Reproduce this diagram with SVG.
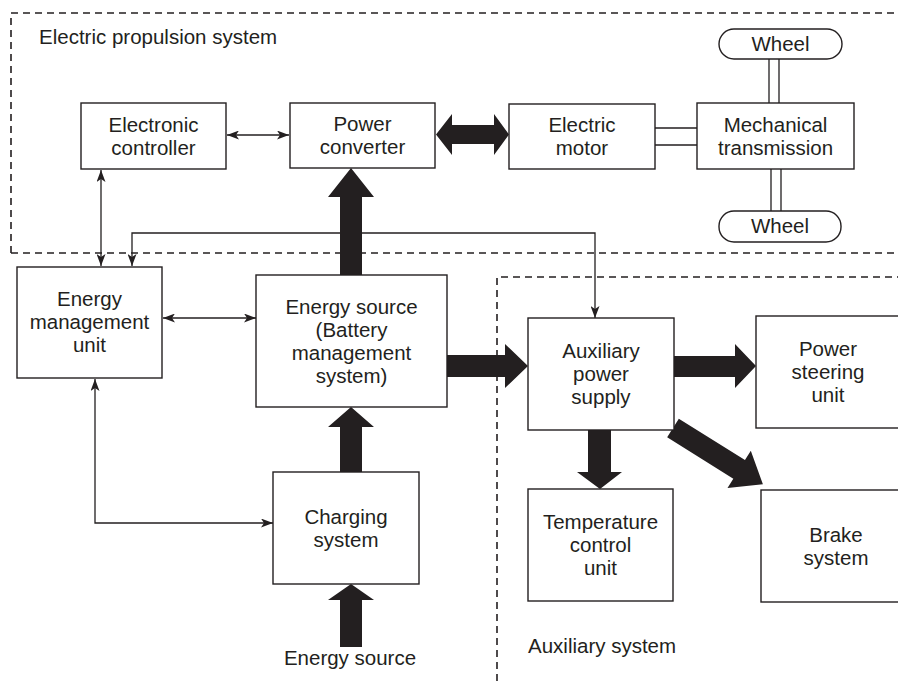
<svg xmlns="http://www.w3.org/2000/svg" width="898" height="681" viewBox="0 0 898 681">
  <style>
    .box { fill: #fff; stroke: #231f20; stroke-width: 1.4; }
    .dash { fill: none; stroke: #231f20; stroke-width: 1.6; stroke-dasharray: 7 5; }
    .thin { fill: none; stroke: #231f20; stroke-width: 1.3; }
    .fat { fill: #231f20; stroke: none; }
    .shaft { fill: none; stroke: #231f20; stroke-width: 1.3; }
    text { font-family: "Liberation Sans", Arial, Helvetica, sans-serif; font-size: 20.5px; fill: #231f20; }
    .c { text-anchor: middle; }
  </style>
  <defs>
    <marker id="tip" viewBox="0 0 12 9" refX="12" refY="4.5" markerWidth="12" markerHeight="9" markerUnits="userSpaceOnUse" orient="auto-start-reverse">
      <path d="M0,0 L12,4.5 L0,9 L3,4.5 Z" fill="#231f20"/>
    </marker>
  </defs>

  <!-- system boundaries -->
  <g id="boundaries">
    <path class="dash" d="M11,253 V13 H898"/>
    <path class="dash" d="M11,253 H898"/>
    <path class="dash" d="M497,681 V277 H898"/>
    <text x="39" y="44">Electric propulsion system</text>
    <text x="528" y="653">Auxiliary system</text>
  </g>

  <!-- mechanical shafts -->
  <g id="shafts">
    <path class="shaft" d="M655,128 H697 M655,145 H697"/>
    <path class="shaft" d="M769,59 V103 M779,59 V103"/>
    <path class="shaft" d="M771,169 V211 M781,169 V211"/>
  </g>

  <!-- connectors -->
  <g id="connectors">
    <path class="thin" d="M227,135 H289" marker-start="url(#tip)" marker-end="url(#tip)"/>
    <path class="thin" d="M101,170 V266" marker-start="url(#tip)" marker-end="url(#tip)"/>
    <path class="thin" d="M132,266 V233 H595 V318" marker-start="url(#tip)" marker-end="url(#tip)"/>
    <path class="thin" d="M163,318 H256" marker-start="url(#tip)" marker-end="url(#tip)"/>
    <path class="thin" d="M95,379 V523 H273" marker-start="url(#tip)" marker-end="url(#tip)"/>

    <polygon class="fat" points="436,134.5 452,114 452,125 494,125 494,114 509,134.5 494,155 494,144 452,144 452,155"/>
    <polygon class="fat" points="351,168 374,197 362,197 362,275 340,275 340,197 328,197"/>
    <polygon class="fat" points="351,407 374,427 362,427 362,472 340,472 340,427 328,427"/>
    <polygon class="fat" points="351,584 374,600 362,600 362,647 340,647 340,600 328,600"/>
    <polygon class="fat" points="447,355 505,355 505,344 528,366 505,388 505,377 447,377"/>
    <polygon class="fat" points="674,356 735,356 735,344 756,366 735,388 735,377 674,377"/>
    <polygon class="fat" points="588,430 611,430 611,472 622,472 600,489 577,472 588,472"/>
    <polygon class="fat" transform="translate(673,428) rotate(32)" points="0,-11 78,-11 78,-22 106,0 78,22 78,11 0,11"/>
  </g>

  <!-- nodes -->
  <g id="wheel-top">
    <rect class="box" x="719" y="29" width="123" height="30" rx="15" ry="15"/>
    <text class="c" x="780.5" y="51">Wheel</text>
  </g>
  <g id="wheel-bottom">
    <rect class="box" x="719" y="211" width="122" height="31" rx="15" ry="15"/>
    <text class="c" x="780" y="233">Wheel</text>
  </g>
  <g id="electronic-controller">
    <rect class="box" x="81" y="103" width="145" height="66"/>
    <text class="c" x="153.5" y="131.5">Electronic</text>
    <text class="c" x="153.5" y="154.5">controller</text>
  </g>
  <g id="power-converter">
    <rect class="box" x="290" y="103" width="145" height="65"/>
    <text class="c" x="362.5" y="131">Power</text>
    <text class="c" x="362.5" y="154">converter</text>
  </g>
  <g id="electric-motor">
    <rect class="box" x="509" y="104" width="146" height="65"/>
    <text class="c" x="582" y="132">Electric</text>
    <text class="c" x="582" y="155">motor</text>
  </g>
  <g id="mechanical-transmission">
    <rect class="box" x="697" y="103" width="157" height="66"/>
    <text class="c" x="775.5" y="131.5">Mechanical</text>
    <text class="c" x="775.5" y="154.5">transmission</text>
  </g>
  <g id="energy-management-unit">
    <rect class="box" x="17" y="267" width="145" height="111"/>
    <text class="c" x="89.5" y="306">Energy</text>
    <text class="c" x="89.5" y="329">management</text>
    <text class="c" x="89.5" y="352">unit</text>
  </g>
  <g id="energy-source-bms">
    <rect class="box" x="256" y="275" width="191" height="132"/>
    <text class="c" x="351.5" y="313.5">Energy source</text>
    <text class="c" x="351.5" y="336.5">(Battery</text>
    <text class="c" x="351.5" y="359.5">management</text>
    <text class="c" x="351.5" y="382.5">system)</text>
  </g>
  <g id="charging-system">
    <rect class="box" x="273" y="472" width="146" height="112"/>
    <text class="c" x="346" y="524">Charging</text>
    <text class="c" x="346" y="547">system</text>
  </g>
  <g id="energy-source-input">
    <text class="c" x="350" y="665">Energy source</text>
  </g>
  <g id="auxiliary-power-supply">
    <rect class="box" x="528" y="318" width="146" height="112"/>
    <text class="c" x="601" y="358">Auxiliary</text>
    <text class="c" x="601" y="381">power</text>
    <text class="c" x="601" y="404">supply</text>
  </g>
  <g id="power-steering-unit">
    <rect class="box" x="756" y="316" width="144" height="112"/>
    <text class="c" x="828" y="356">Power</text>
    <text class="c" x="828" y="379">steering</text>
    <text class="c" x="828" y="402">unit</text>
  </g>
  <g id="temperature-control-unit">
    <rect class="box" x="528" y="489" width="145" height="112"/>
    <text class="c" x="600.5" y="529">Temperature</text>
    <text class="c" x="600.5" y="552">control</text>
    <text class="c" x="600.5" y="575">unit</text>
  </g>
  <g id="brake-system">
    <rect class="box" x="761" y="490" width="150" height="112"/>
    <text class="c" x="836" y="542">Brake</text>
    <text class="c" x="836" y="565">system</text>
  </g>
</svg>
